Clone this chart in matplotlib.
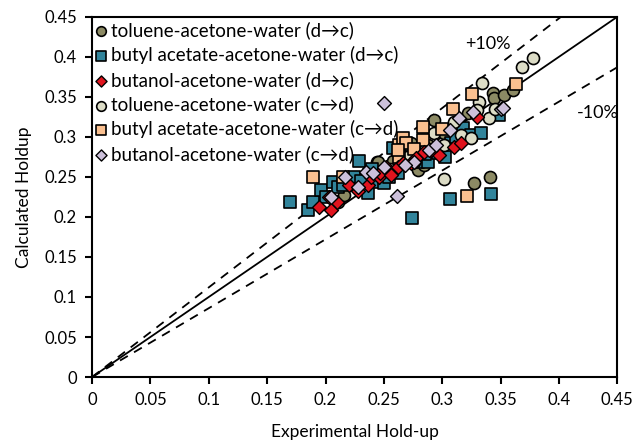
import matplotlib
matplotlib.use("Agg")
import matplotlib.pyplot as plt
import numpy as np

plt.rcParams['font.family'] = ['Lato', 'DejaVu Sans']

# toluene-acetone-water (d->c)
tol_dc_x = [0.211, 0.2156, 0.244, 0.245, 0.273, 0.279, 0.284, 0.288, 0.293, 0.3015,
            0.327, 0.341, 0.3437, 0.3445, 0.353, 0.361, 0.31, 0.322, 0.258, 0.265]
tol_dc_y = [0.219, 0.2275, 0.269, 0.269, 0.2925, 0.259, 0.265, 0.29, 0.321, 0.305,
            0.2425, 0.25, 0.355, 0.349, 0.3525, 0.359, 0.315, 0.33, 0.27, 0.28]

# butyl acetate-acetone-water (d->c)
ba_dc_x = [0.170, 0.185, 0.189, 0.196, 0.2, 0.206, 0.211, 0.217, 0.224, 0.2285, 0.236,
           0.245, 0.25, 0.254, 0.2577, 0.267, 0.2706, 0.279, 0.288, 0.274, 0.307,
           0.3075, 0.312, 0.318, 0.3247, 0.333, 0.349, 0.342, 0.296, 0.302, 0.262,
           0.23, 0.215, 0.24, 0.285]
ba_dc_y = [0.219, 0.209, 0.219, 0.234, 0.225, 0.244, 0.2375, 0.249, 0.25, 0.27, 0.23,
           0.244, 0.2425, 0.25, 0.286, 0.29, 0.271, 0.269, 0.269, 0.199, 0.2225,
           0.2925, 0.30, 0.311, 0.3025, 0.305, 0.3275, 0.229, 0.28, 0.275, 0.255,
           0.245, 0.24, 0.26, 0.278]

# butanol-acetone-water (d->c)
bu_dc_x = [0.194, 0.2045, 0.21, 0.203, 0.22, 0.236, 0.239, 0.246, 0.247, 0.252, 0.262,
           0.266, 0.273, 0.2775, 0.284, 0.297, 0.31, 0.316, 0.228, 0.256, 0.29, 0.33]
bu_dc_y = [0.2125, 0.209, 0.219, 0.225, 0.24, 0.24, 0.25, 0.25, 0.255, 0.2625, 0.2625,
           0.2675, 0.2675, 0.274, 0.281, 0.2775, 0.2875, 0.2925, 0.232, 0.252, 0.283, 0.325]

# toluene-acetone-water (c->d)
tol_cd_x = [0.3015, 0.334, 0.368, 0.378, 0.3316, 0.33, 0.316, 0.3247, 0.34, 0.3015,
            0.293, 0.286, 0.276, 0.255, 0.27, 0.345, 0.31]
tol_cd_y = [0.2475, 0.3675, 0.3875, 0.399, 0.344, 0.334, 0.3025, 0.299, 0.324, 0.29,
            0.305, 0.286, 0.269, 0.26, 0.275, 0.335, 0.318]

# butyl acetate-acetone-water (c->d)
ba_cd_x = [0.189, 0.215, 0.263, 0.263, 0.266, 0.269, 0.2835, 0.2835, 0.309, 0.3256,
           0.321, 0.363, 0.262, 0.276, 0.3]
ba_cd_y = [0.25, 0.25, 0.275, 0.29, 0.299, 0.2925, 0.296, 0.3125, 0.335, 0.354,
           0.226, 0.366, 0.284, 0.285, 0.31]

# butanol-acetone-water (c->d)
bu_cd_x = [0.217, 0.2277, 0.2345, 0.2405, 0.25, 0.276, 0.289, 0.2947, 0.3067, 0.3144,
           0.3265, 0.3505, 0.352, 0.25, 0.261, 0.205, 0.268]
bu_cd_y = [0.25, 0.2375, 0.256, 0.255, 0.2625, 0.269, 0.284, 0.29, 0.309, 0.3237,
           0.3312, 0.335, 0.336, 0.3425, 0.226, 0.225, 0.265]

labels = ['toluene-acetone-water (d\u2192c)',
          'butyl acetate-acetone-water (d\u2192c)',
          'butanol-acetone-water (d\u2192c)',
          'toluene-acetone-water (c\u2192d)',
          'butyl acetate-acetone-water (c\u2192d)',
          'butanol-acetone-water (c\u2192d)']

upper_factor = 1.12
lower_factor = 0.86

fig = plt.figure(figsize=(6.36, 4.41), dpi=100)
ax = fig.add_axes([0.1447, 0.145, 0.826, 0.817])

ref = np.array([0, 0.45])
ax.plot(ref, ref, color='black', lw=1.3, zorder=1)
ax.plot(ref, ref * upper_factor, color='black', lw=1.3, ls=(0, (5, 4)), zorder=1)
ax.plot(ref, ref * lower_factor, color='black', lw=1.3, ls=(0, (5, 4)), zorder=1)

ax.scatter(tol_dc_x, tol_dc_y, s=75, marker='o', c='#8c8a64', edgecolors='black', lw=1.2, label=labels[0], zorder=3)
ax.scatter(ba_dc_x, ba_dc_y, s=85, marker='s', c='#31849b', edgecolors='black', lw=1.2, label=labels[1], zorder=3)
ax.scatter(bu_dc_x, bu_dc_y, s=50, marker='D', c='#e0141e', edgecolors='black', lw=1.0, label=labels[2], zorder=4)
ax.scatter(tol_cd_x, tol_cd_y, s=75, marker='o', c='#dcdcc6', edgecolors='black', lw=1.2, label=labels[3], zorder=3)
ax.scatter(ba_cd_x, ba_cd_y, s=85, marker='s', c='#fac090', edgecolors='black', lw=1.2, label=labels[4], zorder=3)
ax.scatter(bu_cd_x, bu_cd_y, s=50, marker='D', c='#ccc0da', edgecolors='black', lw=1.0, label=labels[5], zorder=4)

ax.text(0.32, 0.416, '+10%', fontsize=13, va='center', ha='left')
ax.text(0.415, 0.33, '-10%', fontsize=13, va='center', ha='left')

ax.set_xlim(0, 0.45)
ax.set_ylim(0, 0.45)
ticks = np.arange(0, 0.451, 0.05)
ax.set_xticks(ticks)
ax.set_yticks(ticks)
ax.set_xticklabels(['0', '0.05', '0.1', '0.15', '0.2', '0.25', '0.3', '0.35', '0.4', '0.45'])
ax.set_yticklabels(['0', '0.05', '0.1', '0.15', '0.2', '0.25', '0.3', '0.35', '0.4', '0.45'])
ax.tick_params(direction='out', length=5, width=1.5, labelsize=12, pad=6)
for sp in ax.spines.values():
    sp.set_linewidth(1.5)

ax.set_xlabel('Experimental Hold-up', fontsize=12.5, labelpad=11)
ax.set_ylabel('Calculated Holdup', fontsize=12.5, labelpad=9)

ax.legend(loc='upper left', frameon=False, fontsize=13.5, handletextpad=0.25,
          borderaxespad=0.05, labelspacing=0.36, markerscale=0.8, borderpad=0.2,
          handlelength=0.5)

fig.savefig('out.png', dpi=100)
